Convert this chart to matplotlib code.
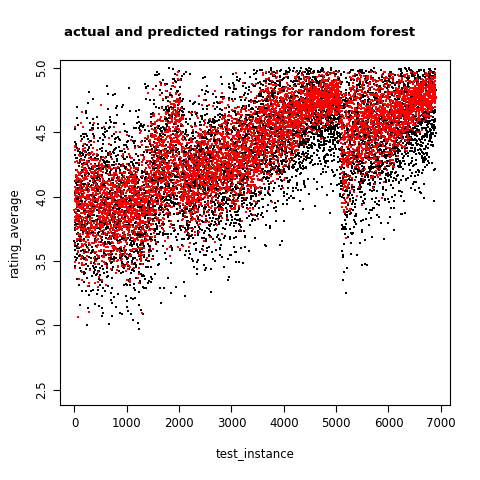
import numpy as np
import matplotlib
matplotlib.use('Agg')
import matplotlib.pyplot as plt

# ── Trend (knots: test_instance -> typical rating) ────────────────────────────
knot_x      = [0, 300, 800, 1300, 1600, 2000, 2100, 2500, 3000, 3500, 3700, 4000, 4500, 5050, 5150, 5300, 6000, 6500, 6900]
actual_mean = [3.95, 3.95, 3.9, 3.9, 4.15, 4.3, 4.1, 4.15, 4.25, 4.4, 4.5, 4.5, 4.6, 4.65, 4.3, 4.4, 4.5, 4.6, 4.7]
actual_sd   = [0.35, 0.35, 0.35, 0.35, 0.35, 0.35, 0.3, 0.3, 0.3, 0.3, 0.3, 0.28, 0.25, 0.2, 0.4, 0.35, 0.3, 0.25, 0.2]
pred_mean   = [3.95, 3.95, 3.9, 3.9, 4.2, 4.45, 4.1, 4.2, 4.3, 4.4, 4.55, 4.55, 4.72, 4.78, 4.3, 4.55, 4.6, 4.73, 4.82]
pred_sd     = [0.25, 0.25, 0.22, 0.22, 0.25, 0.28, 0.2, 0.2, 0.2, 0.2, 0.2, 0.18, 0.1, 0.08, 0.3, 0.22, 0.18, 0.1, 0.07]
n_instances = 6900
x_ticks = [0, 1000, 2000, 3000, 4000, 5000, 6000, 7000]
y_ticks = [2.5, 3.0, 3.5, 4.0, 4.5, 5.0]

idx = np.arange(1, n_instances + 1)

def hash_noise(i, salt):
    # deterministic spread around the read trend
    u1 = np.modf(np.abs(np.sin(i * 12.9898 + salt) * 43758.5453))[0]
    u2 = np.modf(np.abs(np.sin(i * 78.233 + salt * 3.1) * 24634.6345))[0]
    u1 = np.clip(u1, 1e-6, 1)
    return np.sqrt(-2 * np.log(u1)) * np.cos(2 * np.pi * u2)

def fold(v, top):
    v = np.where(v > top, 2 * top - v, v)
    return v

actual = np.interp(idx, knot_x, actual_mean) + np.interp(idx, knot_x, actual_sd) * hash_noise(idx, 1.0)
pred = np.interp(idx, knot_x, pred_mean) + np.interp(idx, knot_x, pred_sd) * hash_noise(idx, 7.0)
actual = np.clip(fold(actual, 5.0), 2.45, 5.0)
pred = np.clip(fold(pred, 4.97), 3.05, 4.97)

fig = plt.figure(figsize=(4.8, 4.8), dpi=100)
ax = fig.add_axes([0.125, 0.156, 0.8125, 0.719])
ax.scatter(idx, actual, s=0.8, c='black', marker='s', linewidths=0)
ax.scatter(idx, pred, s=1.2, c='red', marker='s', linewidths=0)
ax.set_xlim(-276, 7176)
ax.set_ylim(2.38, 5.06)
ax.set_xticks(x_ticks)
ax.set_yticks(y_ticks)
ax.set_yticklabels([str(v) for v in y_ticks], rotation=90, va='center')
ax.tick_params(labelsize=8.5, direction='out', length=5)
ax.set_xlabel('test_instance', fontsize=8.5, labelpad=12)
ax.set_ylabel('rating_average', fontsize=8.5, labelpad=10)
fig.suptitle('actual and predicted ratings for random forest', fontweight='bold', fontsize=9.5, y=0.945)
fig.savefig('out.png', dpi=100)
